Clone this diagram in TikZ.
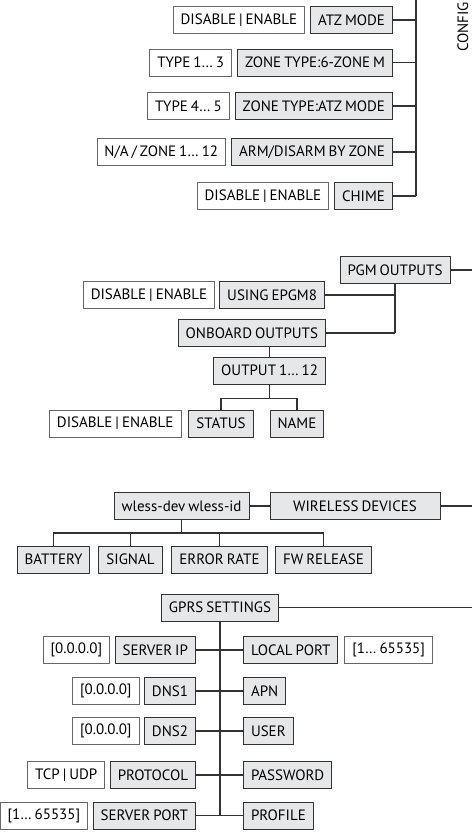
\documentclass[tikz,border=0pt]{standalone}
\usepackage{fontspec}
\setmainfont{PT Sans}[WordSpace=0.75]
\usetikzlibrary{positioning}
\definecolor{BoxGray}{HTML}{E6E7E8}
\definecolor{LineGray}{HTML}{333333}

\tikzset{
  item/.style={draw=LineGray, fill=BoxGray, line width=1pt, minimum height=27pt, inner xsep=7.5pt, inner ysep=0pt},
  opt/.style={draw=black!60, fill=white, line width=0.9pt, minimum height=27pt, inner xsep=7.5pt, inner ysep=0pt},
  link/.style={draw=LineGray, line width=1.2pt}
}

\begin{document}
\begin{tikzpicture}[x=1pt, y=-1pt, font=\fontsize{15}{17}\selectfont]
    \useasboundingbox (0,0) rectangle (472,835);

    % configuration
    \node[rotate=90, anchor=base west, inner sep=0pt] (cfgtitle) at (468,52) {CONFIG};
    \coordinate (cfgtop) at (416,0);
    \foreach \y/\optv/\lbl [count=\i] in {20/{DISABLE | ENABLE}/{ATZ MODE}, 62.5/{TYPE 1… 3}/{ZONE TYPE:6-ZONE M}, 106/{TYPE 4… 5}/{ZONE TYPE:ATZ MODE}, 152/{N/A / ZONE 1… 12}/{ARM/DISARM BY ZONE}, 196/{DISABLE | ENABLE}/{CHIME}} {
        \node[item, anchor=east] (cfg\i) at (393,\y) {\lbl};
        \node[opt, anchor=east] (cfgopt\i) at ([xshift=-5pt]cfg\i.west) {\optv};
        \draw[link] (cfg\i.east) -- (cfg\i.east -| cfgtop);
    }
    \draw[link] (cfgtop) -- (cfg5.east -| cfgtop);

    % pgm outputs
    \node[item] (pgm) at (395,270) {PGM OUTPUTS};
    \coordinate (pgmedge) at (472,270);
    \node[item, anchor=east] (epgm) at (325,295) {USING EPGM8};
    \node[opt, anchor=east] (epgmopt) at ([xshift=-4pt]epgm.west) {DISABLE | ENABLE};
    \node[item, anchor=east] (onboard) at (326,333) {ONBOARD OUTPUTS};
    \node[item, anchor=east] (output) at (326,370.5) {OUTPUT 1… 12};
    \coordinate (outfork) at ([yshift=-14pt]output.south);
    \node[item] (status) at (221,423.5) {STATUS};
    \node[item] (outname) at (297,423.5) {NAME};
    \node[opt, anchor=east] (statusopt) at ([xshift=-7pt]status.west) {DISABLE | ENABLE};
    \draw[link] (pgm.east) -- (pgmedge);
    \draw[link] (pgm.south) -- (pgm.south |- onboard.east);
    \draw[link] (epgm.east) -- (epgm.east -| pgm.south);
    \draw[link] (onboard.east) -- (onboard.east -| pgm.south);
    \draw[link] (onboard.south -| output.north) -- (output.north);
    \draw[link] (output.south) -- (outfork);
    \draw[link] (status.north) |- (outfork) -| (outname.north);

    % wireless devices
    \node[item, minimum width=170pt] (wldev) at (355,506) {WIRELESS DEVICES};
    \node[item, anchor=east] (wlid) at ([xshift=-20pt]wldev.west) {wless-dev wless-id};
    \coordinate (wledge) at (472,506);
    \coordinate (wlfork) at ([yshift=-13pt]wlid.south);
    \draw[link] (wlid.east) -- (wldev.west);
    \draw[link] (wldev.east) -- (wledge);
    \draw[link] (wlid.south) -- (wlfork);
    \foreach \x/\lbl [count=\i] in {53.5/BATTERY, 130.5/SIGNAL, 219.5/ERROR RATE, 323.5/FW RELEASE} {
        \node[item] (wl\i) at (\x,559.5) {\lbl};
        \draw[link] (wl\i.north) |- (wlfork);
    }

    % gprs settings
    \node[item] (gprs) at (220,607.5) {GPRS SETTINGS};
    \coordinate (gprsedge) at (472,607.5);
    \foreach \y/\optv/\lbl [count=\i] in {650/{[0.0.0.0]}/{SERVER IP}, 691/{[0.0.0.0]}/{DNS1}, 731/{[0.0.0.0]}/{DNS2}, 775/{TCP | UDP}/{PROTOCOL}, 815.5/{[1… 65535]}/{SERVER PORT}} {
        \node[item, anchor=east] (gl\i) at (196,\y) {\lbl};
        \node[opt, anchor=east] (glopt\i) at ([xshift=-4.5pt]gl\i.west) {\optv};
        \draw[link] (gl\i.east) -- (gl\i.east -| gprs.south);
    }
    \foreach \y/\lbl [count=\i] in {650/LOCAL PORT, 691/APN, 731/USER, 775/PASSWORD, 815.5/PROFILE} {
        \node[item, anchor=west] (gr\i) at (243,\y) {\lbl};
        \draw[link] (gr\i.west) -- (gr\i.west -| gprs.south);
    }
    \node[opt, anchor=west] (gropt1) at ([xshift=6pt]gr1.east) {[1… 65535]};
    \draw[link] (gprs.east) -- (gprsedge);
    \draw[link] (gprs.south) -- (gprs.south |- gl5.east);
\end{tikzpicture}
\end{document}
